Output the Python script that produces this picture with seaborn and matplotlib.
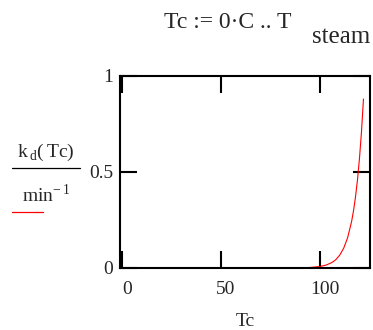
import numpy as np
import pandas as pd
import matplotlib
matplotlib.use('Agg')
import matplotlib.pyplot as plt
import matplotlib.transforms as mtransforms
import seaborn as sns

# nilai
tc = [0, 20, 40, 60, 80, 90, 95, 100, 103, 106, 108, 110, 112, 114, 116, 117, 118, 119, 120, 121, 122]
kd = [0.0, 0.0, 0.0, 0.0, 0.0001, 0.0009, 0.0027, 0.0078, 0.0148, 0.028, 0.043, 0.067,
      0.103, 0.158, 0.242, 0.30, 0.372, 0.462, 0.573, 0.71, 0.88]
x_ticks = [0, 50, 100]
y_ticks = [0, 0.5, 1]
y_tick_labels = ['0', '0.5', '1']

df = pd.DataFrame({'Tc': tc, 'kd': kd})

sns.set_style('white')
plt.rcParams['font.family'] = ['Liberation Serif', 'DejaVu Serif']
plt.rcParams['mathtext.fontset'] = 'custom'
plt.rcParams['mathtext.rm'] = 'Liberation Serif'

W, H = 373, 330
fig = plt.figure(figsize=(W / 100, H / 100), dpi=100)
ax = fig.add_axes([120 / W, 1 - 268 / H, 250 / W, 192 / H])

sns.lineplot(data=df, x='Tc', y='kd', color='red', linewidth=0.8, ax=ax)

ax.set_xlim(-1, 125.3)
ax.set_ylim(0, 1)
ax.set_xticks(x_ticks)
ax.set_xticklabels([str(t) for t in x_ticks])
ax.set_yticks(y_ticks)
ax.set_yticklabels(y_tick_labels)
ax.tick_params(axis='both', direction='in', length=12, width=1.5, color='black',
               labelsize=14, top=True, right=True, bottom=True, left=True)
ax.tick_params(axis='x', pad=9)
ax.tick_params(axis='y', pad=5)
for s in ax.spines.values():
    s.set_linewidth(1.5)
    s.set_color('black')

# label x sedikit bergeser ke kanan seperti di Mathcad
shift = mtransforms.ScaledTranslation(5 / 100, 0, fig.dpi_scale_trans)
for lbl in ax.get_xticklabels():
    lbl.set_transform(lbl.get_transform() + shift)

ax.set_xlabel('Tc', fontsize=14, labelpad=11)
ax.set_ylabel('')

# judul gaya Mathcad
fig.text(292 / W, 1 - 28 / H, 'Tc := 0·C .. T', fontsize=17, ha='right', va='baseline')
fig.text(370 / W, 1 - 43 / H, 'steam', fontsize=18, ha='right', va='baseline')

# label sumbu y berbentuk pecahan
fig.text(46 / W, 1 - 157 / H, r'$\mathrm{k}_{\,\mathrm{d}}\mathrm{(\,Tc)}$', fontsize=14, ha='center', va='baseline')
fig.add_artist(plt.Line2D([12 / W, 80 / W], [1 - 168 / H, 1 - 168 / H], color='black', linewidth=0.9))
fig.text(46 / W, 1 - 202 / H, r'$\mathrm{min}^{\mathrm{-\,1}}$', fontsize=14, ha='center', va='baseline')
fig.add_artist(plt.Line2D([12 / W, 43 / W], [1 - 212 / H, 1 - 212 / H], color='red', linewidth=0.9))

fig.savefig('out.png', dpi=100)
